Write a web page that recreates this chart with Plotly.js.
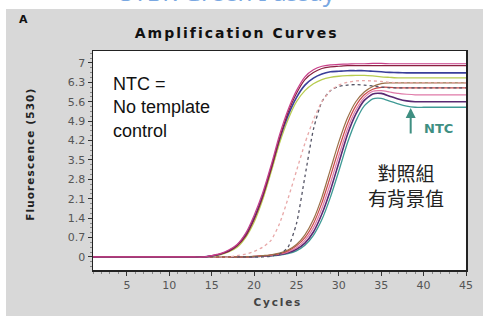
<!DOCTYPE html>
<html><head><meta charset="utf-8">
<script src="https://cdn.plot.ly/plotly-3.0.1.min.js"></script>
<style>
html,body{margin:0;padding:0;background:#fff;}
.annotation[data-index="2"] text{letter-spacing:2px;}
.annotation[data-index="3"] text{letter-spacing:1.1px;}
.annotation[data-index="4"] text{letter-spacing:1.8px;}
</style>
</head><body>
<div id="chart" style="width:483px;height:316px;"></div>
<script>
const cycles = [1,2,3,4,5,6,7,8,9,10,11,12,13,14,15,16,17,18,19,20,21,22,23,24,25,26,27,28,29,30,31,32,33,34,35,36,37,38,39,40,41,42,43,44,45];

const curveA1 = [0,0,0,0,0, 0,0,0,0,0, 0,0,0,0,0.05, 0.12,0.25,0.45,0.85,1.5, 2.3,3.3,4.4,5.3,6.0, 6.5,6.75,6.88,6.93,6.95, 6.96,6.97,6.97,6.98,6.98, 6.97,6.97,6.97,6.97,6.97, 6.97,6.97,6.97,6.97,6.97];
const curveA2 = [0,0,0,0,0, 0,0,0,0,0, 0,0,0,0,0.04, 0.1,0.2,0.4,0.75,1.35, 2.15,3.15,4.25,5.2,5.9, 6.4,6.65,6.8,6.86,6.88, 6.9,6.9,6.9,6.9,6.9, 6.9,6.9,6.9,6.9,6.9, 6.9,6.9,6.9,6.9,6.9];
const curveA3 = [0,0,0,0,0, 0,0,0,0,0, 0,0,0,0,0.04, 0.1,0.22,0.42,0.8,1.4, 2.2,3.2,4.25,5.1,5.75, 6.2,6.45,6.6,6.68,6.7, 6.72,6.72,6.72,6.7,6.68, 6.66,6.65,6.64,6.64,6.64, 6.64,6.64,6.64,6.64,6.64];
const curveA4 = [0,0,0,0,0, 0,0,0,0,0, 0,0,0,0,0.03, 0.08,0.18,0.35,0.7,1.25, 2.05,3.05,4.1,4.95,5.6, 6.0,6.25,6.4,6.48,6.52, 6.54,6.55,6.55,6.53,6.5, 6.48,6.46,6.46,6.46,6.46, 6.46,6.46,6.46,6.46,6.46];
const curveB  = [0,0,0,0,0, 0,0,0,0,0, 0,0,0,0,0, 0,0,0.05,0.1,0.2, 0.35,0.6,1.2,2.1,3.1, 4.1,4.95,5.6,6.0,6.2, 6.3,6.35,6.36,6.35,6.33, 6.3,6.28,6.28,6.28,6.28, 6.28,6.28,6.28,6.28,6.28];
const curveC  = [0,0,0,0,0, 0,0,0,0,0, 0,0,0,0,0, 0,0,0,0,0, 0,0.03,0.1,0.35,1.2, 2.9,4.6,5.6,6.0,6.15, 6.2,6.22,6.2,6.17,6.13, 6.1,6.1,6.1,6.1,6.1, 6.1,6.1,6.1,6.1,6.1];
const curveD1 = [0,0,0,0,0, 0,0,0,0,0, 0,0,0,0,0, 0,0,0,0,0.02, 0.05,0.08,0.14,0.25,0.45, 0.8,1.35,2.15,3.15,4.15, 5.0,5.6,5.95,6.15,6.25, 6.28,6.28,6.28,6.28,6.28, 6.28,6.28,6.28,6.28,6.28];
const curveD2 = [0,0,0,0,0, 0,0,0,0,0, 0,0,0,0,0, 0,0,0,0,0.02, 0.04,0.07,0.12,0.22,0.4, 0.7,1.2,1.95,2.9,3.9, 4.8,5.45,5.85,6.05,6.12, 6.12,6.1,6.1,6.1,6.1, 6.1,6.1,6.1,6.1,6.1];
const curveD3 = [0,0,0,0,0, 0,0,0,0,0, 0,0,0,0,0, 0,0,0,0,0.02, 0.04,0.06,0.1,0.18,0.33, 0.6,1.05,1.75,2.65,3.65, 4.6,5.3,5.75,5.98,6.0, 5.95,5.9,5.87,5.85,5.85, 5.85,5.85,5.85,5.85,5.85];
const curveD4 = [0,0,0,0,0, 0,0,0,0,0, 0,0,0,0,0, 0,0,0,0,0.01, 0.03,0.05,0.08,0.15,0.28, 0.5,0.9,1.55,2.4,3.4, 4.4,5.15,5.65,5.88,5.9, 5.8,5.7,5.63,5.6,5.6, 5.6,5.6,5.6,5.6,5.6];
const curveD5 = [0,0,0,0,0, 0,0,0,0,0, 0,0,0,0,0, 0,0,0,0,0.01, 0.02,0.04,0.07,0.12,0.22, 0.42,0.78,1.35,2.15,3.1, 4.1,4.9,5.45,5.7,5.72, 5.62,5.52,5.44,5.4,5.4, 5.4,5.4,5.4,5.4,5.4];

const xTickVals = [5,10,15,20,25,30,35,40,45];
const yTickVals = [0,0.7,1.4,2.1,2.8,3.5,4.2,4.9,5.6,6.3,7];
const yTickText = ["0","0.7","1.4","2.1","2.8","3.5","4.2","4.9","5.6","6.3","7"];

const series = [
  {y: curveD5, color: "#3f9a95", width: 1.3, dash: "solid"},
  {y: curveD4, color: "#5a2a72", width: 1.6, dash: "solid"},
  {y: curveD3, color: "#e07aa8", width: 1.2, dash: "solid"},
  {y: curveD2, color: "#c84848", width: 1.2, dash: "solid"},
  {y: curveD1, color: "#9a7048", width: 1.2, dash: "solid"},
  {y: curveC,  color: "#555566", width: 1.3, dash: "dot"},
  {y: curveB,  color: "#e8a8a8", width: 1.3, dash: "dot"},
  {y: curveA4, color: "#b8cc50", width: 1.3, dash: "solid"},
  {y: curveA3, color: "#3a3f9a", width: 1.6, dash: "solid"},
  {y: curveA2, color: "#8a2040", width: 1.2, dash: "solid"},
  {y: curveA1, color: "#c8408a", width: 1.2, dash: "solid"}
];

const traces = series.map(s => ({
  x: cycles, y: s.y, type: "scatter", mode: "lines",
  line: {color: s.color, width: s.width, dash: s.dash, shape: "spline", smoothing: 0.6},
  hoverinfo: "skip", showlegend: false
}));

const tickFont = {family: "DejaVu Sans", size: 11, color: "#555"};

const layout = {
  width: 483, height: 316,
  margin: {l: 93, r: 17, t: 51, b: 46, pad: 0},
  paper_bgcolor: "#d8d8d8",
  plot_bgcolor: "#ffffff",
  showlegend: false,
  xaxis: {
    range: [1, 45], tickmode: "array", tickvals: xTickVals,
    ticks: "outside", ticklen: 4, tickcolor: "#333", tickwidth: 1,
    showline: true, mirror: true, linecolor: "#222", linewidth: 1.5,
    showgrid: false, zeroline: false, tickfont: tickFont,
    minor: {tickmode: "linear", tick0: 0, dtick: 1, ticks: "outside", ticklen: 2, tickcolor: "#888"}
  },
  yaxis: {
    range: [-0.47, 7.43], tickmode: "array", tickvals: yTickVals, ticktext: yTickText,
    ticks: "outside", ticklen: 4, tickcolor: "#333", tickwidth: 1,
    showline: true, mirror: true, linecolor: "#222", linewidth: 1.5,
    showgrid: false, zeroline: false, tickfont: tickFont,
    minor: {tickmode: "linear", tick0: 0, dtick: 0.175, ticks: "outside", ticklen: 2, tickcolor: "#888"}
  },
  shapes: [
    {type: "rect", xref: "paper", yref: "paper", x0: -0.3, x1: -0.2332, y0: -0.5, y1: 1.5, fillcolor: "#ffffff", line: {width: 0}, layer: "below"},
    {type: "rect", xref: "paper", yref: "paper", x0: -0.3, x1: 1.2, y0: 1.1918, y1: 1.5, fillcolor: "#ffffff", line: {width: 0}, layer: "below"}
  ],
  annotations: [
    {text: "SYBR Green I assay", xref: "paper", yref: "paper", x: 0.362, y: 1.271, xanchor: "center", yanchor: "middle", showarrow: false,
     font: {family: "Noto Sans", size: 24, color: "#7aa8e2"}},
    {text: "<b>A</b>", xref: "paper", yref: "paper", x: -0.185, y: 1.142, xanchor: "center", yanchor: "middle", showarrow: false,
     font: {family: "DejaVu Sans", size: 11, color: "#111"}},
    {text: "<b>Amplification Curves</b>", xref: "paper", yref: "paper", x: 0.386, y: 1.082, xanchor: "center", yanchor: "middle", showarrow: false,
     font: {family: "DejaVu Sans", size: 14, color: "#111"}},
    {text: "<b>Fluorescence (530)</b>", xref: "paper", yref: "paper", x: -0.169, y: 0.53, xanchor: "center", yanchor: "middle", showarrow: false, textangle: -90,
     font: {family: "DejaVu Sans", size: 10.5, color: "#222"}},
    {text: "<b>Cycles</b>", xref: "paper", yref: "paper", x: 0.495, y: -0.146, xanchor: "center", yanchor: "middle", showarrow: false,
     font: {family: "DejaVu Sans", size: 10.5, color: "#444"}},
    {text: "NTC =<br>No template<br>control", xref: "paper", yref: "paper", x: 0.048, y: 0.744, xanchor: "left", yanchor: "middle", align: "left", showarrow: false,
     font: {family: "Liberation Sans", size: 18, color: "#111"}},
    {text: "對照組<br>有背景值", xref: "paper", yref: "paper", x: 0.839, y: 0.390, xanchor: "center", yanchor: "middle", align: "center", showarrow: false,
     font: {family: "Noto Sans CJK TC", size: 19, color: "#222"}},
    {text: "", xref: "paper", yref: "paper", x: 0.8517, y: 0.7397, showarrow: true, ax: 0, ay: 27, axref: "pixel", ayref: "pixel",
     arrowhead: 2, arrowsize: 1, arrowwidth: 2, arrowcolor: "#3f8f82"},
    {text: "<b>NTC</b>", xref: "paper", yref: "paper", x: 0.925, y: 0.644, xanchor: "center", yanchor: "middle", showarrow: false,
     font: {family: "DejaVu Sans", size: 13, color: "#3f8f82"}}
  ]
};

Plotly.newPlot("chart", traces, layout, {staticPlot: true, displayModeBar: false});
</script>
</body></html>
